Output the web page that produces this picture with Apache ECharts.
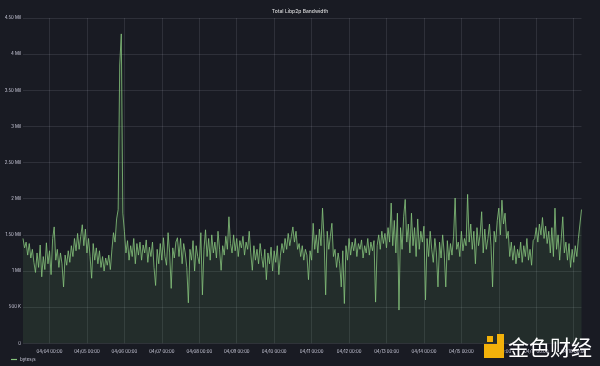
<!DOCTYPE html>
<html>
<head>
<meta charset="utf-8">
<script src="https://cdn.jsdelivr.net/npm/echarts@6/dist/echarts.min.js"></script>
<style>
html,body{margin:0;padding:0;background:#191b23;}
#chart{width:600px;height:366px;}
</style>
</head>
<body>
<div id="chart"></div>
<script>
// Hourly samples starting 04/03 07:00, values in millions of bytes/s
const startUTC = Date.UTC(2023, 3, 3, 7, 0);
const stepHours = 1;
const seriesName = 'bytes/s';
const titleText = 'Total Libp2p Bandwidth';
const yTicksMil = [0, 0.5, 1, 1.5, 2, 2.5, 3, 3.5, 4, 4.5];
const bandwidthMil = [
  1.45, 1.32, 1.40, 1.22, 1.38, 1.18, 1.30, 1.12, 0.98, 1.25,
  1.05, 1.36, 0.92, 1.20, 1.02, 1.39, 1.10, 1.28, 0.95, 1.45,
  1.61, 1.15, 1.30, 1.05, 1.25, 1.10, 0.78, 1.22, 1.08, 1.28,
  1.12, 1.35, 1.20, 1.45, 1.28, 1.52, 1.30, 1.48, 1.64, 1.35,
  1.58, 1.25, 1.45, 1.20, 0.90, 1.38, 1.15, 1.32, 1.10, 1.28,
  1.05, 1.20, 1.00, 1.18, 1.08, 1.22, 1.02, 1.30, 1.53, 1.40, 1.72,
  1.85, 3.85, 4.28, 1.80, 1.55,
  1.25, 1.42, 1.15, 1.35, 1.20, 1.45, 1.10, 1.38, 1.22, 1.40,
  1.15, 1.36, 1.25, 1.43, 1.12, 1.33, 1.20, 1.40, 1.05, 0.80,
  1.30, 1.10, 1.38, 1.15, 1.46, 1.20, 1.08, 1.53, 1.25, 0.76, 1.32, 1.18, 1.40, 1.46,
  1.20, 1.45, 1.10, 1.38, 1.25, 1.05, 0.56, 1.30, 1.15, 1.42, 1.00, 1.35, 1.20, 1.10, 1.53,
  0.67, 1.30, 1.57, 1.20, 1.45, 1.15, 1.50, 1.25, 1.40, 1.18, 1.55, 1.30,
  1.01, 1.35, 1.22, 1.48, 1.30, 1.75, 1.38, 1.25, 1.50, 1.28, 1.45, 1.20, 1.42, 1.32,
  1.48, 1.22, 1.40, 1.30, 1.55, 1.25, 1.01, 1.35, 1.15, 1.30, 1.10, 1.38, 1.20,
  1.05, 1.30, 0.88, 1.25, 1.10, 1.33, 1.00, 1.28, 1.12, 1.35, 0.95, 1.22,
  1.38, 1.25, 1.45, 1.30, 1.52, 1.35, 1.48, 1.61, 1.40, 1.55, 1.30,
  1.38, 1.20, 1.35, 1.15, 1.30, 1.22, 0.88, 1.28, 1.15,
  1.66, 1.30, 1.50, 1.25, 1.58, 1.35, 1.87, 1.45, 0.67, 1.55, 1.30, 1.48, 1.66, 1.20,
  1.30, 1.05, 1.25, 1.10, 0.78, 1.28, 0.55, 1.35, 1.15, 1.45,
  1.22, 1.40, 1.28, 1.45, 1.20, 1.38, 1.30, 1.43, 1.18, 1.35, 1.25, 1.45, 1.22, 1.40, 1.28, 1.42,
  0.57,
  1.35, 1.50, 1.30, 1.55, 1.38, 1.52, 1.32, 1.60, 1.40,
  1.94, 1.35, 1.70, 1.25, 1.80, 0.46, 1.60, 1.30, 1.75, 1.99, 1.40,
  1.65, 1.25, 1.80, 1.35, 1.60, 1.20, 1.72, 1.30, 1.55, 1.40, 1.62,
  0.60,
  1.45, 1.20, 1.55, 1.30, 1.12, 1.45, 1.25, 0.78, 1.40, 1.18, 1.50, 1.25, 0.78, 1.42, 1.15, 1.38, 1.22, 1.48,
  2.01,
  1.30, 1.40, 1.20, 1.55, 1.28, 1.45, 1.35,
  2.06,
  1.40, 1.65, 1.30, 1.55, 1.10, 1.60, 1.35, 1.50, 1.82, 1.25, 1.58, 1.30,
  1.45, 1.65, 1.35, 0.78, 1.55, 1.40, 1.70, 1.87, 1.50, 1.98, 1.65, 1.80,
  1.45, 1.55, 1.20, 1.40, 1.15, 1.35, 1.10, 1.30, 1.18,
  1.40, 1.12, 1.35, 1.20, 1.45, 1.15, 1.30, 1.08, 1.42,
  1.45, 1.60, 1.40, 1.65, 1.50, 1.74, 1.45, 1.62, 1.38,
  1.55, 1.25, 1.60, 1.20, 1.87, 1.30, 1.50, 1.15, 1.45, 1.75, 1.25, 1.40,
  1.15, 1.38, 1.05, 1.30, 1.12, 1.35, 1.20, 1.45,
  1.65, 1.85
];

function pad(n){ return (n < 10 ? '0' : '') + n; }
const categories = bandwidthMil.map((_, i) => {
  const d = new Date(startUTC + i * stepHours * 3600 * 1000);
  return pad(d.getUTCMonth() + 1) + '/' + pad(d.getUTCDate()) + ' ' + pad(d.getUTCHours()) + ':' + pad(d.getUTCMinutes());
});
const isMidnight = (idx, val) => String(val).endsWith('00:00');

function fmtY(v){
  if (v === 0) return '0';
  if (v < 1) return Math.round(v * 1000) + ' K';
  if (Number.isInteger(v)) return v + ' Mil';
  return v.toFixed(2) + ' Mil';
}

const FONT = 'Inter, Roboto, "Noto Sans", sans-serif';
const chart = echarts.init(document.getElementById('chart'), null, {renderer: 'canvas'});
chart.setOption({
  backgroundColor: '#191b23',
  animation: false,
  title: {
    text: titleText, left: 'center', top: 4,
    textStyle: {color: '#d8d9da', fontSize: 5, fontWeight: 500, fontFamily: FONT}
  },
  legend: {
    data: [seriesName], left: 6, top: 352, itemWidth: 6, itemHeight: 1.2, icon: 'rect',
    itemGap: 2, textStyle: {color: '#ccccdc', fontSize: 4.5, fontFamily: FONT, padding: [0,0,0,-2]}
  },
  grid: {left: 23, right: 18.5, top: 18, bottom: 22.7, containLabel: false},
  xAxis: {
    type: 'category', data: categories, boundaryGap: false,
    axisLine: {show: false}, axisTick: {show: false},
    axisLabel: {interval: isMidnight, color: '#ccccdc', fontSize: 4.3, fontFamily: FONT, margin: 6, hideOverlap: false},
    splitLine: {show: true, interval: isMidnight, lineStyle: {color: 'rgba(204,204,220,0.12)', width: 1}}
  },
  yAxis: {
    type: 'value', min: 0, max: yTicksMil[yTicksMil.length - 1], interval: yTicksMil[1] - yTicksMil[0],
    axisLine: {show: false}, axisTick: {show: false},
    axisLabel: {formatter: fmtY, color: '#ccccdc', fontSize: 4.3, fontFamily: FONT, margin: 2},
    splitLine: {lineStyle: {color: 'rgba(204,204,220,0.12)', width: 1}}
  },
  series: [{
    name: seriesName, type: 'line', data: bandwidthMil, symbol: 'none',
    lineStyle: {color: '#86c47c', width: 0.9, opacity: 0.9},
    itemStyle: {color: '#86c47c'},
    areaStyle: {color: 'rgba(115,191,105,0.16)'}
  }],
  graphic: [
    {type: 'polygon', z: 100, shape: {points: [[484,344],[497,344],[497,334],[504,334],[504,358],[484,358]]}, style: {fill: '#f2b10a'}},
    {type: 'rect', z: 101, shape: {x: 487, y: 336, width: 6, height: 6}, style: {fill: '#f2b10a'}},
    {type: 'text', z: 100, style: {text: '金色财经', x: 508, y: 347, fill: '#ffffff', fontSize: 21, fontFamily: '"Noto Sans CJK SC", sans-serif', verticalAlign: 'middle'}}
  ]
});
</script>
</body>
</html>
